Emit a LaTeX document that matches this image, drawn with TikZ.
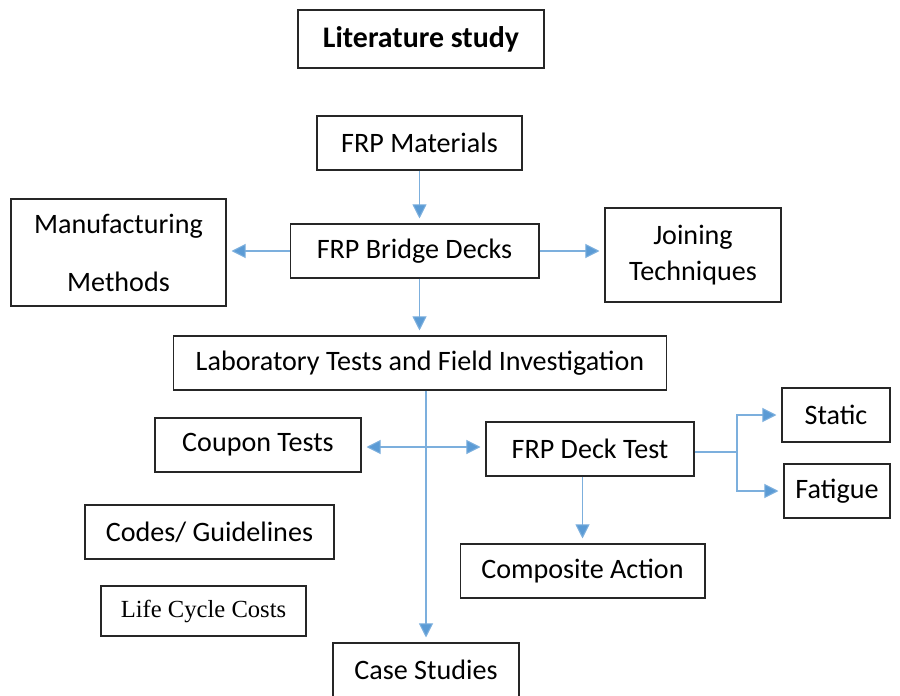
\documentclass[tikz,border=0pt]{standalone}
\usepackage{fontspec}
\setmainfont{Carlito}
\newfontfamily\timesfont{Liberation Serif}
\usetikzlibrary{arrows.meta}
\definecolor{arrowblue}{HTML}{5B9BD5}
\begin{document}
\begin{tikzpicture}[x=0.02cm, y=-0.02cm,
  box/.style={draw=black!85, line width=0.6pt, inner sep=0pt, align=center, font=\fontsize{16}{19}\selectfont},
  link/.style={draw=arrowblue!80, line width=0.6pt},
  arr/.style={link, -{Triangle[length=8pt, width=8pt, fill=arrowblue]}, shorten >=0.1cm}]
\useasboundingbox (0,0) rectangle (900,696);
% top of the chain
\node[box, minimum width=4.92cm, minimum height=1.16cm, font=\fontsize{17}{20}\selectfont\bfseries] (lit) at (421,39) {Literature study};
\node[box, minimum width=4.1cm, minimum height=1.08cm] (mat) at (419.5,143) {FRP Materials};
\node[box, minimum width=4.98cm, minimum height=1.08cm] (bridge) at (414.5,251) {FRP Bridge Decks};
\node[box, minimum width=4.3cm, minimum height=2.14cm, font=\fontsize{16}{33}\selectfont] (manuf) at (118.5,252.5) {Manufacturing\\Methods};
\node[box, minimum width=3.52cm, minimum height=1.88cm, font=\fontsize{16}{20.5}\selectfont] (join) at (693,255) {Joining\\Techniques};
\node[box, minimum width=9.88cm, minimum height=1.08cm] (lab) at (420,363) {Laboratory Tests and Field Investigation};

% tests
\node[box, minimum width=4.12cm, minimum height=1.08cm] (coupon) at (258,445) {Coupon Tests};
\node[box, minimum width=4.16cm, minimum height=1.08cm] (deck) at (590,449) {FRP Deck Test};
\node[box, minimum width=2.16cm, minimum height=1.08cm] (static) at (836,415) {Static};
\node[box, minimum width=2.12cm, minimum height=1.08cm] (fatigue) at (837,491) {Fatigue};
\node[box, minimum width=4.9cm, minimum height=1.08cm] (comp) at (582.5,571) {Composite Action};

% other topics
\node[box, minimum width=4.98cm, minimum height=1.08cm] (codes) at (209.5,532) {Codes/ Guidelines};
\node[box, minimum width=4.1cm, minimum height=1.0cm, font=\fontsize{14}{17}\timesfont] (life) at (203.5,611) {Life Cycle Costs};
\node[box, minimum width=3.72cm, minimum height=1.08cm] (case) at (426,670) {Case Studies};

% connectors
\draw[arr] (mat.south) -- (mat.south |- bridge.north);
\draw[arr] (bridge.west) -- (bridge.west -| manuf.east);
\draw[arr] (bridge.east) -- (bridge.east -| join.west);
\draw[arr] (bridge.south -| mat.south) -- (lab.north -| mat.south);
\draw[arr] (case.north |- lab.south) -- (case.north);
\coordinate (split) at (425,447);
\draw[arr] (split) -- (split -| coupon.east);
\draw[arr] (split) -- (split -| deck.west);
\coordinate (fork) at (737,452);
\draw[link] (deck.east |- fork) -- (fork);
\draw[arr] (fork) |- (static.west);
\draw[arr] (fork) |- (fatigue.west);
\draw[arr] (comp.north |- deck.south) -- (comp.north);
\end{tikzpicture}
\end{document}
